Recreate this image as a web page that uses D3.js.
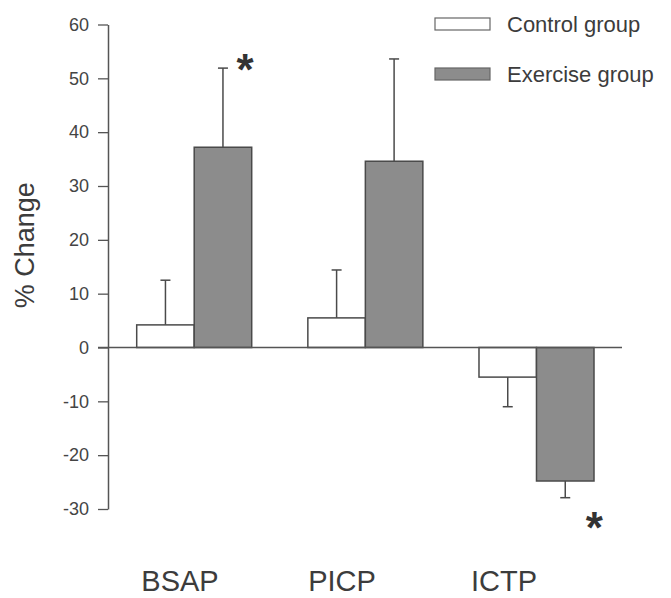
<!DOCTYPE html>
<html>
<head>
<meta charset="utf-8">
<script src="https://cdn.jsdelivr.net/npm/d3@7"></script>
<style>
  html, body { margin: 0; padding: 0; background: #fff; }
  svg { display: block; }
</style>
</head>
<body>
<script>
const categories = ["BSAP", "PICP", "ICTP"];
const groups = ["Control group", "Exercise group"];
const controlValues = [4.2, 5.5, -5.5];
const controlErrors = [8.3, 8.9, 5.5];
const exerciseValues = [37.2, 34.6, -24.8];
const exerciseErrors = [14.7, 19.0, 3.1];
const significant = [[false, true], [false, false], [false, true]];
const yTicks = [60, 50, 40, 30, 20, 10, 0, -10, -20, -30];

const W = 671, H = 598;
const svg = d3.select("body").append("svg").attr("width", W).attr("height", H)
  .style("font-family", "'Liberation Sans', Arial, Helvetica, sans-serif");

const y = d3.scaleLinear().domain([-30, 60]).range([509, 24.5]);
const x = d3.scaleBand().domain(categories).range([136.7, 594]).paddingInner(0.328).paddingOuter(0);
const xs = d3.scaleBand().domain(groups).range([0, x.bandwidth()]).padding(0);
const xLabel = d3.scalePoint().domain(categories).range([180, 504]);

const fills = { "Control group": "#ffffff", "Exercise group": "#8c8c8c" };
const strokeCol = "#4a4a4a";
const textCol = "#3c3c3c";

// y axis
const yAxis = svg.append("g").attr("transform", "translate(108,0)")
  .call(d3.axisLeft(y).tickValues(yTicks).tickFormat(d => String(d))
    .tickSize(10).tickSizeOuter(0).tickPadding(9));
yAxis.select(".domain").attr("stroke", "#555").attr("stroke-width", 1.5);
yAxis.selectAll(".tick line").attr("stroke", "#555").attr("stroke-width", 1.3);
yAxis.selectAll(".tick text").attr("fill", "#444").style("font-size", "18px")
  .style("font-family", "'Liberation Sans', Arial, sans-serif");

// y label
svg.append("text")
  .attr("transform", `translate(34,${y(19)}) rotate(-90)`)
  .attr("text-anchor", "middle")
  .attr("fill", textCol)
  .style("font-size", "27px")
  .text("% Change");

// data rows
const rows = [];
categories.forEach((c, i) => {
  rows.push({ cat: c, grp: groups[0], v: controlValues[i], e: controlErrors[i], sig: significant[i][0] });
  rows.push({ cat: c, grp: groups[1], v: exerciseValues[i], e: exerciseErrors[i], sig: significant[i][1] });
});

// error bars
const eb = svg.append("g");
rows.forEach(d => {
  const cx = x(d.cat) + xs(d.grp) + xs.bandwidth() / 2;
  const end = d.v >= 0 ? d.v + d.e : d.v - d.e;
  eb.append("line").attr("x1", cx).attr("x2", cx).attr("y1", y(d.v)).attr("y2", y(end))
    .attr("stroke", strokeCol).attr("stroke-width", 1.5);
  eb.append("line").attr("x1", cx - 5).attr("x2", cx + 5).attr("y1", y(end)).attr("y2", y(end))
    .attr("stroke", strokeCol).attr("stroke-width", 1.5);
});

// bars
svg.append("g").selectAll("rect").data(rows).join("rect")
  .attr("x", d => x(d.cat) + xs(d.grp))
  .attr("width", xs.bandwidth())
  .attr("y", d => y(Math.max(0, d.v)))
  .attr("height", d => Math.abs(y(d.v) - y(0)))
  .attr("fill", d => fills[d.grp])
  .attr("stroke", strokeCol)
  .attr("stroke-width", 1.5);

// zero baseline
svg.append("line").attr("x1", 98).attr("x2", 622).attr("y1", y(0)).attr("y2", y(0))
  .attr("stroke", "#555").attr("stroke-width", 1.5);

// asterisks
rows.filter(d => d.sig).forEach(d => {
  const cx = x(d.cat) + xs(d.grp) + xs.bandwidth() / 2;
  const end = d.v >= 0 ? d.v + d.e : d.v - d.e;
  const cy = d.v >= 0 ? y(end) - 8 : y(end) + 20;
  svg.append("text").attr("x", cx + (d.v >= 0 ? 22 : 29)).attr("y", cy + 25)
    .attr("text-anchor", "middle").attr("fill", "#333")
    .style("font-size", "44px").style("font-weight", "bold").text("*");
});

// category labels
svg.append("g").selectAll("text").data(categories).join("text")
  .attr("x", d => xLabel(d)).attr("y", 591)
  .attr("text-anchor", "middle").attr("fill", textCol)
  .style("font-size", "29px").text(d => d);

// legend
const lg = svg.append("g");
groups.forEach((g, i) => {
  const ly = 24 + i * 50;
  lg.append("rect").attr("x", 435).attr("y", ly - 6).attr("width", 55).attr("height", 12)
    .attr("fill", fills[g]).attr("stroke", "#666").attr("stroke-width", 1.2);
  lg.append("text").attr("x", 507).attr("y", ly).attr("dy", "0.35em")
    .attr("fill", textCol).style("font-size", "22px").text(g);
});
</script>
</body>
</html>
